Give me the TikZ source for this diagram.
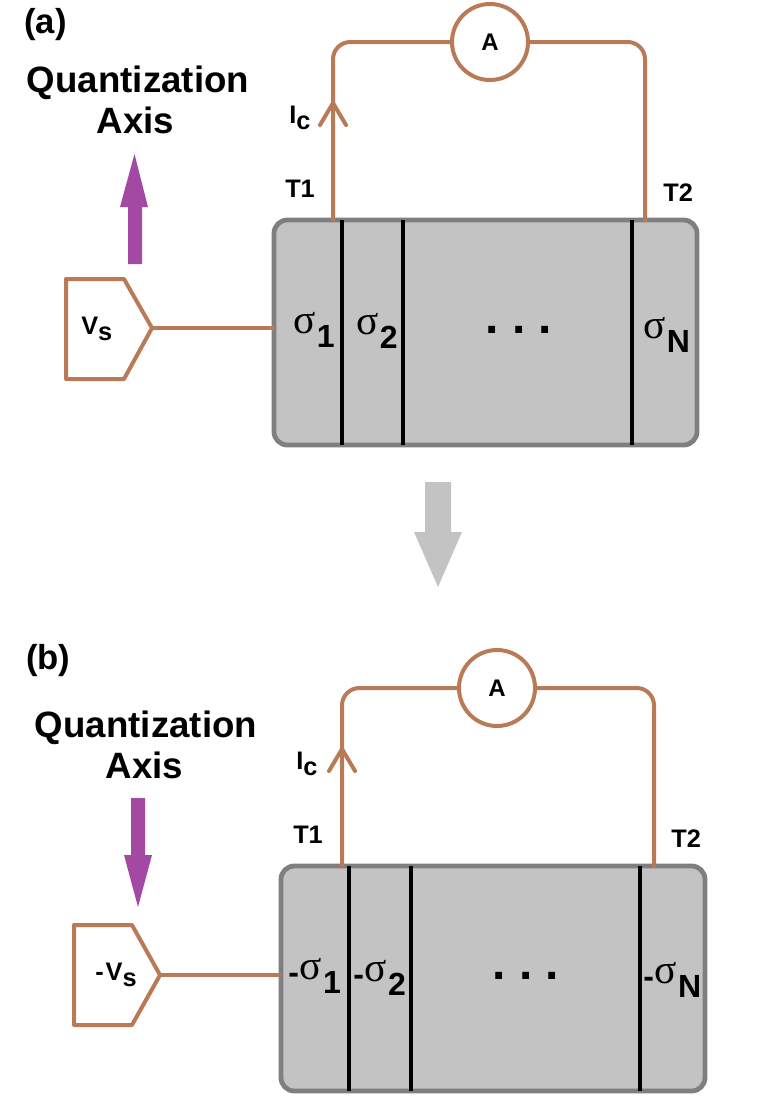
\documentclass[tikz,border=0pt]{standalone}
\usepackage{fontspec}
\setmainfont{Liberation Sans}
\newfontfamily\sigmafont{Liberation Serif}
\definecolor{wirebrown}{HTML}{B97A57}
\definecolor{axispurple}{HTML}{A349A4}
\definecolor{platefill}{HTML}{C3C3C3}
\definecolor{plateedge}{HTML}{7F7F7F}
\tikzstyle{wire} = [draw=wirebrown, line width=3pt, line join=round]
\tikzstyle{plate} = [draw=plateedge, fill=platefill, line width=3.6pt, rounded corners=10pt]
\tikzstyle{divider} = [draw=black, line width=3.2pt]
\tikzstyle{meter} = [draw=wirebrown, fill=white, circle, line width=3pt, minimum size=57pt, inner sep=0, font=\bfseries\fontsize{18}{18}\selectfont]
\tikzstyle{title} = [font=\bfseries\fontsize{27.5}{30.5}\selectfont, align=center, inner sep=0]
\tikzstyle{panel} = [font=\bfseries\fontsize{26}{26}\selectfont, inner sep=0, anchor=base west]
\tikzstyle{small} = [font=\bfseries\fontsize{19}{19}\selectfont, inner sep=0, anchor=base west]
\tikzstyle{layer} = [font=\bfseries\fontsize{24}{24}\selectfont, inner sep=0, anchor=base west]
\tikzstyle{dots} = [font=\bfseries\fontsize{36}{36}\selectfont\frenchspacing, inner sep=0, anchor=base]
\newcommand{\sig}[1]{{\sigmafont\mdseries\fontsize{31}{31}\selectfont\raisebox{10.5pt}{σ}}\hspace{1pt}{#1}}
\newcommand{\negsig}[1]{{\raisebox{7pt}{-}}\hspace{0.5pt}\sig{#1}}
\begin{document}
\begin{tikzpicture}[x=0.75pt, y=-0.75pt]
      \useasboundingbox (0, 0) rectangle (773, 1118);

      % panel (a)
      \node[panel] (labela) at (24, 33) {(a)};
      \node[title] (axisa) at (138, 100) {Quantization\\Axis\hspace*{4pt}};
      \fill[axispurple] (128, 264) -- (128, 207) -- (120, 207) -- (134.5, 154) -- (148, 207) -- (142, 207) -- (142, 264) -- cycle;

      \draw[plate] (274, 220) rectangle (697, 445);
      \coordinate (platea) at (274, 328);
      \draw[divider] (342, 220) -- (342, 445);
      \draw[divider] (403, 220) -- (403, 445);
      \draw[divider] (632, 220) -- (632, 445);
      \node[layer] (s1a) at (293, 347) {\sig{1}};
      \node[layer] (s2a) at (356, 348) {\sig{2}};
      \node[dots] (dotsa) at (519, 333) {. . .};
      \node[layer] (sNa) at (643, 352) {\sig{N}};

      \node[meter] (ammetera) at (490, 42) {A};
      \coordinate (t1a) at (333, 221);
      \coordinate (t2a) at (645, 222);
      \coordinate (tipa) at (333, 103);
      \draw[wire, rounded corners=13pt] (t1a) -- (333, 42) -- (ammetera);
      \draw[wire, rounded corners=13pt] (ammetera) -- (645, 42) -- (t2a);
      \draw[wire, line cap=round] (320, 125) -- (tipa) -- (346, 125);
      \node[small] (ica) at (289, 123) {I\raisebox{-4.5pt}{c}};
      \node[small] (t1labela) at (285, 197) {T1};
      \node[small] (t2labela) at (663, 201) {T2};

      \draw[wire, fill=white] (66, 279) -- (124, 279) -- (152, 328) -- (124, 379) -- (66, 379) -- cycle;
      \coordinate (vsa) at (152, 328);
      \node[small] (vslabela) at (81, 334) {V\raisebox{-4.5pt}{s}};
      \draw[wire] (vsa) -- (platea);

      % arrow between the panels
      \fill[platefill] (425, 482) -- (451, 482) -- (451, 532) -- (462, 532) -- (438, 587) -- (414, 532) -- (425, 532) -- cycle;

      % panel (b)
      \node[panel] (labelb) at (26, 669) {(b)};
      \node[title] (axisb) at (146, 745) {Quantization\\Axis\hspace*{2pt}};
      \fill[axispurple] (131, 798) -- (145, 798) -- (145, 855) -- (152, 855) -- (138, 907) -- (124, 855) -- (131, 855) -- cycle;

      \draw[plate] (281, 866) rectangle (705, 1091);
      \coordinate (plateb) at (281, 975);
      \draw[divider] (349, 866) -- (349, 1091);
      \draw[divider] (411, 866) -- (411, 1091);
      \draw[divider] (640, 866) -- (640, 1091);
      \node[layer] (s1b) at (288, 993) {\negsig{1}};
      \node[layer] (s2b) at (353, 995) {\negsig{2}};
      \node[dots] (dotsb) at (526, 979) {. . .};
      \node[layer] (sNb) at (643, 997) {\negsig{N}};

      \node[meter] (ammeterb) at (497, 688) {A};
      \coordinate (t1b) at (342, 867);
      \coordinate (t2b) at (654, 868);
      \coordinate (tipb) at (342, 749);
      \draw[wire, rounded corners=13pt] (t1b) -- (342, 688) -- (ammeterb);
      \draw[wire, rounded corners=13pt] (ammeterb) -- (654, 688) -- (t2b);
      \draw[wire, line cap=round] (329, 771) -- (tipb) -- (355, 771);
      \node[small] (icb) at (296, 769) {I\raisebox{-4.5pt}{c}};
      \node[small] (t1labelb) at (293, 843) {T1};
      \node[small] (t2labelb) at (671, 847) {T2};

      \draw[wire, fill=white] (74, 925) -- (132, 925) -- (160, 975) -- (132, 1025) -- (74, 1025) -- cycle;
      \coordinate (vsb) at (160, 975);
      \node[small] (vslabelb) at (95, 980) {-\hspace{1.5pt}V\raisebox{-4.5pt}{s}};
      \draw[wire] (vsb) -- (plateb);
    \end{tikzpicture}
\end{document}
